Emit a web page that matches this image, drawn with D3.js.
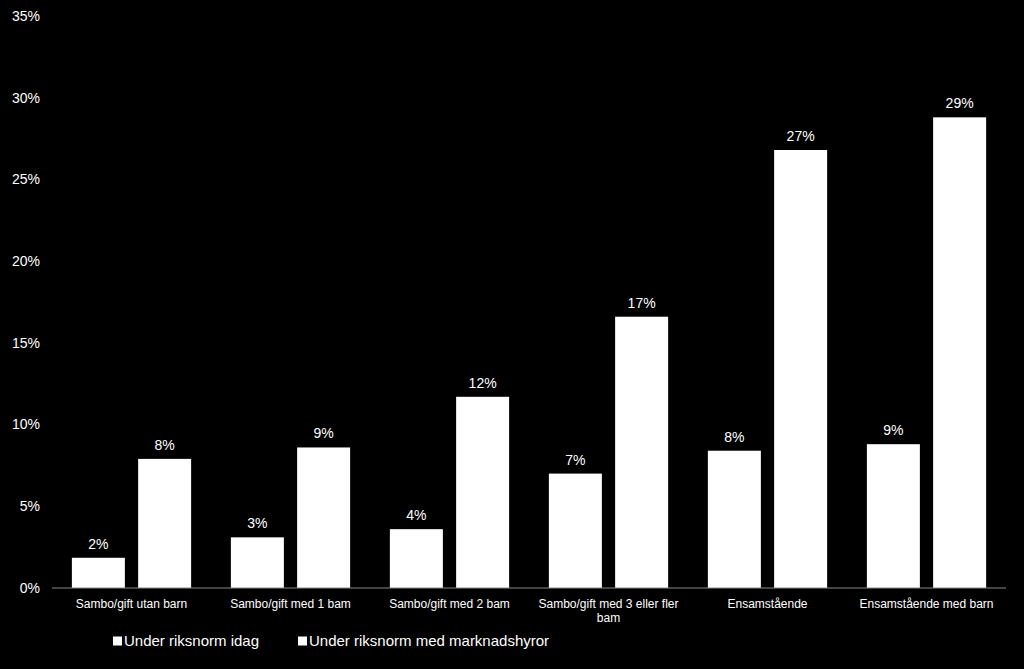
<!DOCTYPE html>
<html>
<head>
<meta charset="utf-8">
<script src="https://cdn.jsdelivr.net/npm/d3@7"></script>
<style>
  body { margin: 0; background: #000; }
  svg { display: block; font-family: "Liberation Sans", Arial, sans-serif; }
</style>
</head>
<body>
<div id="chart-container"></div>
<script>
// Data
const categories = [
    ["Sambo/gift utan barn"],
    ["Sambo/gift med 1 bam"],
    ["Sambo/gift med 2 bam"],
    ["Sambo/gift med 3 eller fler", "bam"],
    ["Ensamstående"],
    ["Ensamstående med barn"]
];
const seriesNames = ["Under riksnorm idag", "Under riksnorm med marknadshyror"];
const idag = [1.85, 3.1, 3.6, 7.0, 8.4, 8.8];
const marknad = [7.9, 8.6, 11.7, 16.6, 26.8, 28.8];
const yTicks = [0, 5, 10, 15, 20, 25, 30, 35];

const totalW = 1024, totalH = 669;
const margin = { top: 16, right: 18, bottom: 81, left: 52 };
const width = totalW - margin.left - margin.right;
const height = totalH - margin.top - margin.bottom;

const svg = d3.select("#chart-container")
    .append("svg")
    .attr("width", totalW)
    .attr("height", totalH);

svg.append("rect").attr("width", totalW).attr("height", totalH).attr("fill", "#000");

const g = svg.append("g")
    .attr("transform", `translate(${margin.left},${margin.top})`);

// Scales
const x0 = d3.scaleBand()
    .domain(d3.range(categories.length))
    .range([0, width])
    .paddingInner(0.25)
    .paddingOuter(0.125);

const x1 = d3.scaleBand()
    .domain([0, 1])
    .range([0, x0.bandwidth()])
    .paddingInner(0.2);

const y = d3.scaleLinear()
    .domain([0, 35])
    .range([height, 0]);

// Y axis labels
g.selectAll(".ytick")
    .data(yTicks)
    .enter().append("text")
    .attr("class", "ytick")
    .attr("x", -12)
    .attr("y", d => y(d))
    .attr("dy", "0.35em")
    .attr("text-anchor", "end")
    .attr("fill", "#fff")
    .style("font-size", "14px")
    .text(d => d + "%");

// Bars
const groups = g.selectAll(".grp")
    .data(categories.map((c, i) => ({ i, vals: [idag[i], marknad[i]] })))
    .enter().append("g")
    .attr("transform", d => `translate(${x0(d.i)},0)`);

groups.selectAll("rect")
    .data(d => d.vals.map((v, k) => ({ v, k })))
    .enter().append("rect")
    .attr("x", d => x1(d.k))
    .attr("y", d => y(d.v))
    .attr("width", x1.bandwidth())
    .attr("height", d => height - y(d.v))
    .attr("fill", "#fff");

groups.selectAll(".lbl")
    .data(d => d.vals.map((v, k) => ({ v, k })))
    .enter().append("text")
    .attr("class", "lbl")
    .attr("x", d => x1(d.k) + x1.bandwidth() / 2)
    .attr("y", d => y(d.v) - 9)
    .attr("text-anchor", "middle")
    .attr("fill", "#fff")
    .style("font-size", "14px")
    .text(d => Math.round(d.v) + "%");

// Zero line
g.append("line")
    .attr("x1", 0).attr("x2", width)
    .attr("y1", height).attr("y2", height)
    .attr("stroke", "#888").attr("stroke-width", 1);

// X labels
g.selectAll(".xlab")
    .data(categories)
    .enter().append("text")
    .attr("class", "xlab")
    .attr("transform", (d, i) => `translate(${x0(i) + x0.bandwidth() / 2},${height + 20})`)
    .attr("text-anchor", "middle")
    .attr("fill", "#fff")
    .style("font-size", "12px")
    .selectAll("tspan")
    .data(d => d)
    .enter().append("tspan")
    .attr("x", 0)
    .attr("dy", (d, j) => j === 0 ? 0 : 14)
    .text(d => d);

// Legend
const legend = svg.append("g").attr("transform", "translate(113,641)");
const legX = [0, 185];
seriesNames.forEach((name, i) => {
    legend.append("rect")
        .attr("x", legX[i]).attr("y", -4.5)
        .attr("width", 9).attr("height", 9)
        .attr("fill", "#fff");
    legend.append("text")
        .attr("x", legX[i] + 11).attr("y", 0)
        .attr("dy", "0.35em")
        .attr("fill", "#fff")
        .style("font-size", "15px")
        .text(name);
});
</script>
</body>
</html>
